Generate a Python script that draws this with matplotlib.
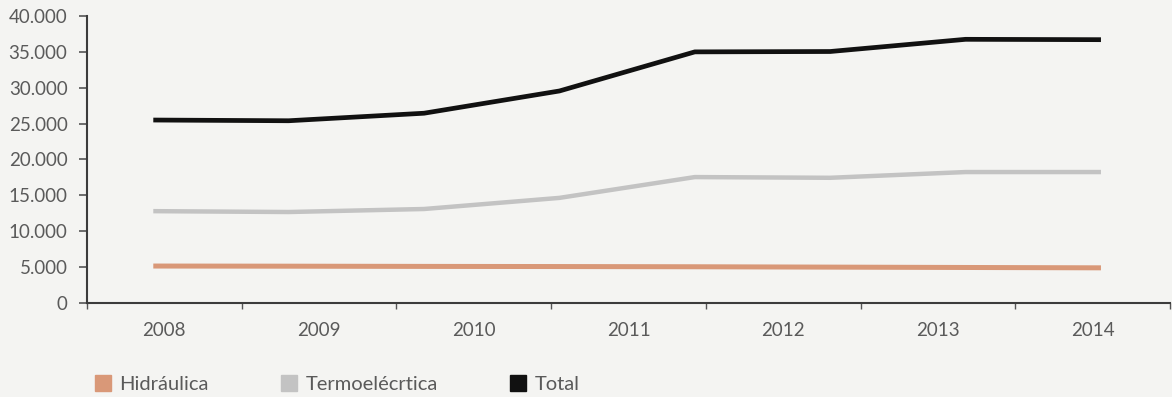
import matplotlib
matplotlib.use("Agg")
import matplotlib.pyplot as plt
from matplotlib.ticker import FuncFormatter, FixedLocator, NullFormatter
from matplotlib.lines import Line2D

# capacity series (8 readings) and year labels for the category axis
years = ["2008", "2009", "2010", "2011", "2012", "2013", "2014"]
hidraulica = [5150, 5130, 5100, 5080, 5050, 5000, 4950, 4900]
termoelectrica = [12800, 12680, 13100, 14650, 17550, 17450, 18250, 18250]
total = [25500, 25400, 26450, 29550, 35000, 35050, 36750, 36700]

series_names = ["Hidráulica", "Termoelécrtica", "Total"]
series_colors = ["#d99878", "#c3c3c3", "#111111"]
series_widths = [3.6, 3.2, 3.4]

plt.rcParams['font.family'] = ['Lato', 'DejaVu Sans']
text_color = "#5a5a5a"
bg = "#f4f4f2"

fig = plt.figure(figsize=(11.72, 3.97), dpi=100, facecolor=bg)
ax = fig.add_axes([0.0742, 0.2368, 0.9241, 0.7229])
ax.set_facecolor(bg)

xs = list(range(len(total)))
for vals, c, lw in zip([hidraulica, termoelectrica, total], series_colors, series_widths):
    ax.plot(xs, vals, color=c, lw=lw, solid_capstyle="butt", solid_joinstyle="round")

ax.set_xlim(-0.49, len(total) - 1 + 0.51)
ax.set_ylim(0, 40000)
ax.set_yticks(range(0, 40001, 5000))
ax.yaxis.set_major_formatter(FuncFormatter(lambda v, p: f"{v:,.0f}".replace(",", ".")))
ax.tick_params(axis="y", length=6, width=1.2, color="#555555", pad=8,
               labelsize=13.5, labelcolor=text_color)
ax.set_xticks([])

for side in ["top", "right"]:
    ax.spines[side].set_visible(False)
for side in ["left", "bottom"]:
    ax.spines[side].set_color("#3c3c3c")
    ax.spines[side].set_linewidth(1.5)

# year axis: boundaries get tick marks, labels sit in the middle of each slot
yr = ax.secondary_xaxis("bottom", functions=(
    lambda x: (x + 0.49) * len(years) / (len(total)),
    lambda c: c * len(total) / len(years) - 0.49))
yr.spines["bottom"].set_visible(False)
yr.xaxis.set_major_locator(FixedLocator(range(0, len(years) + 1)))
yr.xaxis.set_major_formatter(NullFormatter())
yr.xaxis.set_minor_locator(FixedLocator([i + 0.5 for i in range(len(years))]))
yr.set_xticklabels(years, minor=True)
yr.tick_params(axis="x", which="major", length=4, width=1.0, color="#555555")
yr.tick_params(axis="x", which="minor", length=0, pad=14, labelsize=13.5, labelcolor=text_color)

handles = [Line2D([], [], marker="s", linestyle="none", markersize=12,
                  markerfacecolor=c, markeredgecolor=c) for c in series_colors]
fig.legend(handles, series_names, loc="lower left", bbox_to_anchor=(0.064, -0.035),
           ncol=3, frameon=False, fontsize=14.5, labelcolor=text_color,
           handletextpad=0.3, columnspacing=3.5, handlelength=1.0)

fig.savefig("out.png", dpi=100, facecolor=bg)
